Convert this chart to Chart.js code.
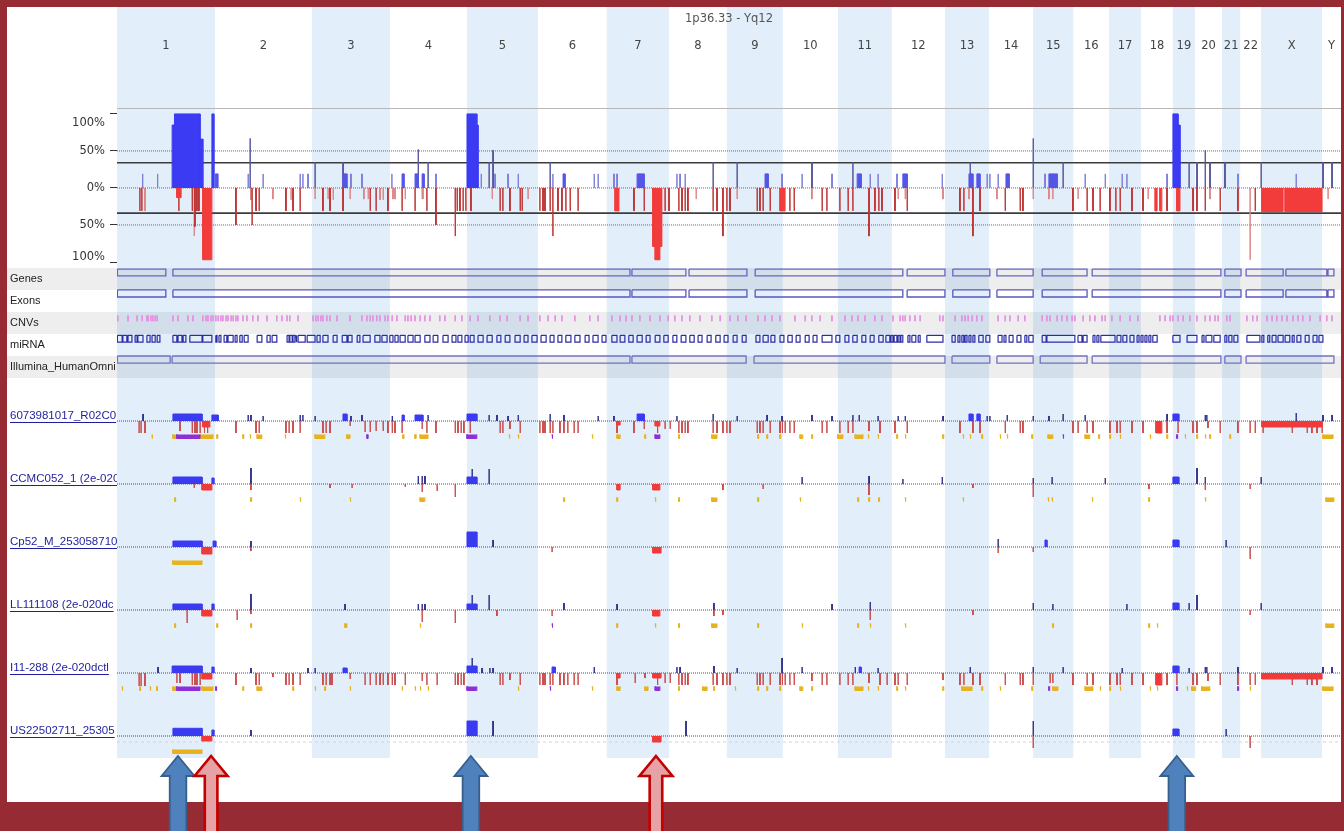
<!DOCTYPE html>
<html><head><meta charset="utf-8">
<script src="https://cdn.jsdelivr.net/npm/chart.js@4"></script>
<style>
html,body{margin:0;padding:0;width:1344px;height:831px;overflow:hidden;background:#962b33;}
#paper{position:absolute;left:7px;top:7px;width:1334px;height:795px;background:#fff;}
#wrap{position:absolute;left:0;top:0;width:1344px;height:831px;}
</style></head><body>
<div id="paper"></div>
<div id="wrap"><canvas id="c" width="1344" height="831"></canvas></div>
<script>
// ---------------- DATA ----------------
const regionTitle = '1p36.33 - Yq12';
const chromosomes = ['1','2','3','4','5','6','7','8','9','10','11','12','13','14','15','16','17','18','19','20','21','22','X','Y'];
const chromLengthsMb = [249,246,198,196,180,175,158,147,142,140,137,135,112,112,102,91,81,81,56,69,46,53,155,48];
const freqTicks = [-100,-50,0,50,100];
const freqGuides = [50,0,-50];
const thresholdPct = [34,-34];
const trackNames = ['Genes','Exons','CNVs','miRNA','Illumina_HumanOmni'];
const sampleNames = ['6073981017_R02C0','CCMC052_1 (2e-020','Cp52_M_253058710','LL111108 (2e-020dc','I11-288 (2e-020dctl','US22502711_25305'];

// frequency profile (genome Mb, %)
const freqGainBlocks = [[140,146,85],[146,211,100],[211,218,66],[241,246,100],[889,914,100],[914,917,85],[2682,2695,100],[2695,2700,85]];
const freqGainSmallBlocks = [[250,256,19],[574,584,19],[724,729,19],[757,765,19],[775,780,19],[1133,1138,19],[1321,1339,19],[1646,1654,19],[1880,1890,19],[1996,2007,19],[2164,2174,19],[2184,2192,19],[2258,2266,19],[2367,2388,19]];
const freqGainLow = [[65,19],[103,19],[333,19],[371,19],[465,19],[472,19],[485,19],[594,19],[622,19],[698,19],[810,19],[925,19],[960,19],[993,19],[1019,19],[1107,19],[1212,19],[1222,19],[1262,19],[1270,19],[1422,19],[1430,19],[1443,19],[1689,19],[1740,19],[1816,19],[1913,19],[1933,19],[1981,19],[2096,19],[2210,19],[2217,19],[2238,19],[2357,19],[2459,19],[2510,19],[2553,19],[2565,19],[2667,19],[2847,19],[2995,19]];
const freqGainHigh = [[338,67],[503,35],[574,35],[765,52],[790,35],[945,35],[955,51],[1100,35],[1514,35],[1575,35],[1765,35],[1869,35],[2167,35],[2327,67],[2403,35],[2723,35],[2743,35],[2764,51],[2776,35],[2814,35],[2906,35],[3063,35],[3086,35]];
const freqLossBlocks = [[152,163,-13],[218,241,-97],[1265,1275,-31],[1361,1384,-79],[1367,1379,-97],[1684,1697,-31],[2637,2642,-31],[2649,2654,-31],[2692,2700,-31],[2908,2962,-32],[2967,3061,-32]];
const freqLossLines = [[58,-31],[63,-31],[157,-31],[191,-31],[203,-31],[198,-52],[208,-31],[302,-50],[343,-50],[353,-31],[361,-31],[429,-31],[447,-31],[465,-31],[523,-31],[541,-31],[574,-31],[643,-31],[658,-31],[688,-31],[724,-31],[757,-31],[787,-31],[810,-50],[859,-65],[864,-31],[871,-31],[879,-31],[886,-31],[899,-31],[973,-31],[980,-31],[998,-31],[1024,-31],[1029,-31],[1074,-31],[1082,-31],[1087,-31],[1100,-31],[1107,-65],[1120,-31],[1130,-31],[1140,-31],[1151,-31],[1171,-31],[1313,-31],[1339,-31],[1392,-31],[1402,-31],[1427,-31],[1435,-31],[1443,-31],[1450,-31],[1514,-31],[1524,-31],[1539,-65],[1549,-31],[1557,-31],[1626,-31],[1633,-31],[1641,-31],[1659,-31],[1709,-31],[1720,-31],[1791,-31],[1803,-31],[1836,-31],[1857,-31],[1869,-31],[1910,-65],[1925,-31],[1935,-31],[1943,-31],[1976,-31],[2007,-31],[2141,-31],[2151,-31],[2174,-65],[2192,-31],[2256,-31],[2294,-31],[2301,-31],[2428,-31],[2464,-31],[2479,-31],[2497,-31],[2522,-31],[2537,-31],[2548,-31],[2578,-31],[2606,-31],[2667,-31],[2733,-31],[2743,-31],[2764,-31],[2802,-31],[2847,-31],[2891,-31]];
const freqLossLow = [[71,-31],[196,-65],[340,-16],[396,-15],[442,-16],[503,-15],[536,-15],[549,-16],[592,-15],[627,-15],[638,-15],[668,-16],[676,-16],[701,-15],[706,-15],[732,-15],[775,-15],[777,-15],[953,-15],[1044,-15],[1471,-15],[1575,-15],[1765,-15],[1984,-15],[2002,-15],[2098,-15],[2164,-15],[2235,-15],[2327,-15],[2367,-15],[2377,-15],[2441,-15],[2619,-15],[2776,-15],[2878,-97],[3076,-15]];

// annotation tracks (genome Mb)
const geneSegments = [[1,124],[142,1303],[1308,1445],[1453,1600],[1621,1996],[2007,2103],[2123,2217],[2235,2327],[2350,2464],[2477,2804],[2814,2855],[2868,2962],[2969,3073],[3076,3091]];
const exonSegments = [[1,124],[142,1303],[1308,1445],[1453,1600],[1621,1996],[2007,2103],[2123,2217],[2235,2327],[2350,2464],[2477,2804],[2814,2855],[2868,2962],[2969,3073],[3076,3091]];
const illuminaSegments = [[1,135],[140,1303],[1308,1598],[1618,2103],[2121,2217],[2235,2327],[2345,2464],[2477,2804],[2814,2855],[2868,3091]];
const cnvSites = [2,28,51,64,76,79,86,91,97,102,142,155,180,193,218,226,231,239,244,251,257,264,269,277,282,290,295,302,307,320,330,345,358,381,406,419,432,439,460,498,505,511,518,523,533,541,559,592,622,635,643,650,660,668,681,688,699,711,732,739,747,757,770,782,795,820,833,859,876,897,917,947,973,991,1024,1044,1074,1095,1113,1130,1163,1201,1222,1257,1278,1293,1308,1328,1354,1379,1400,1417,1435,1455,1481,1511,1532,1557,1577,1598,1628,1646,1664,1684,1722,1748,1765,1786,1816,1849,1867,1882,1900,1925,1943,1971,1989,1996,2002,2014,2027,2040,2090,2098,2129,2146,2154,2162,2172,2184,2197,2238,2256,2268,2289,2306,2350,2362,2370,2388,2400,2413,2426,2433,2454,2471,2484,2502,2510,2527,2548,2573,2593,2649,2662,2675,2682,2695,2708,2725,2743,2764,2776,2789,2797,2819,2827,2870,2885,2896,2921,2934,2946,2959,2972,2987,3000,3012,3030,3056,3073,3086];
const mirnaSegments = [[1,13],[15,25],[28,38],[46,51],[53,66],[76,84],[89,97],[102,109],[142,152],[155,165],[168,175],[185,216],[218,241],[251,254],[259,264],[272,279],[282,295],[300,305],[312,318],[323,333],[356,368],[381,389],[394,406],[432,437],[439,445],[447,452],[455,457],[460,478],[483,503],[508,516],[523,536],[549,559],[572,584],[587,597],[610,617],[625,643],[655,668],[673,686],[693,701],[706,714],[719,732],[739,752],[757,770],[782,795],[803,815],[828,841],[851,861],[866,876],[884,892],[897,907],[917,930],[940,953],[965,975],[986,998],[1011,1024],[1034,1044],[1054,1067],[1077,1090],[1100,1110],[1120,1130],[1140,1153],[1163,1176],[1189,1199],[1209,1222],[1232,1242],[1257,1270],[1278,1290],[1300,1311],[1321,1334],[1344,1354],[1367,1379],[1389,1400],[1412,1422],[1433,1445],[1455,1466],[1476,1486],[1499,1509],[1521,1532],[1542,1552],[1565,1575],[1588,1598],[1623,1633],[1641,1654],[1661,1671],[1684,1694],[1704,1715],[1725,1735],[1748,1758],[1768,1778],[1791,1816],[1826,1836],[1849,1859],[1869,1880],[1892,1902],[1913,1923],[1935,1946],[1953,1963],[1966,1971],[1974,1981],[1984,1989],[1991,1996],[2009,2014],[2019,2029],[2035,2040],[2057,2098],[2121,2129],[2136,2141],[2146,2151],[2154,2159],[2164,2169],[2174,2179],[2189,2200],[2207,2217],[2238,2248],[2253,2258],[2266,2276],[2286,2296],[2306,2311],[2316,2327],[2350,2360],[2362,2433],[2441,2451],[2454,2464],[2479,2484],[2489,2494],[2499,2535],[2540,2550],[2555,2565],[2573,2583],[2591,2596],[2601,2606],[2611,2616],[2621,2626],[2631,2642],[2682,2700],[2718,2743],[2756,2761],[2766,2781],[2786,2802],[2814,2819],[2824,2832],[2837,2847],[2870,2903],[2908,2913],[2923,2928],[2934,2944],[2949,2962],[2967,2979],[2985,2990],[2997,3007],[3018,3028],[3038,3048],[3053,3063]];

// per-sample segments: [startMb, endMb, signal], point events: [Mb, signal], allelic marks: [startMb, endMb]
const s1GainSegs = [[142,216,0.7],[241,257,0.6],[574,584,0.7],[724,729,0.6],[757,777,0.6],[889,914,0.7],[1321,1339,0.7],[2164,2174,0.7],[2184,2192,0.7],[2682,2697,0.7]];
const s1GainLines = [[66,0.7],[333,0.6],[340,0.6],[371,0.5],[465,0.6],[472,0.6],[503,0.5],[594,0.5],[622,0.6],[699,0.5],[790,0.6],[945,0.6],[965,0.6],[993,0.5],[1019,0.6],[1100,0.7],[1135,0.6],[1222,0.5],[1262,0.5],[1422,0.5],[1514,0.7],[1575,0.5],[1651,0.6],[1689,0.5],[1765,0.6],[1816,0.5],[1869,0.6],[1885,0.6],[1933,0.5],[1984,0.5],[2002,0.5],[2098,0.5],[2210,0.5],[2217,0.5],[2261,0.6],[2327,0.5],[2367,0.5],[2403,0.7],[2459,0.6],[2667,0.7],[2764,0.6],[2768,0.6],[2995,0.8],[3063,0.6],[3086,0.6]];
const s1LossSegs = [[218,236,-0.6],[1270,1278,-0.4],[1367,1379,-0.5],[2639,2654,-1.2],[2908,3061,-0.6]];
const s1LossLines = [[56,-1.2],[61,-1.2],[71,-1.2],[160,-1.0],[191,-1.2],[198,-1.2],[203,-1.2],[211,-1.2],[222,-1.2],[230,-1.2],[302,-1.2],[353,-1.2],[361,-1.2],[429,-1.2],[437,-1.2],[447,-1.2],[465,-1.2],[523,-1.2],[531,-1.2],[541,-1.2],[592,-0.5],[630,-1.1],[643,-1.1],[658,-1.0],[676,-1.0],[688,-1.2],[699,-1.2],[706,-1.2],[724,-1.2],[775,-0.8],[787,-1.2],[810,-1.2],[859,-1.2],[866,-1.2],[874,-1.2],[881,-1.2],[897,-1.2],[973,-1.2],[980,-1.2],[998,-0.8],[1024,-1.2],[1074,-1.2],[1082,-1.2],[1087,-1.2],[1100,-1.2],[1107,-1.2],[1125,-1.2],[1135,-1.2],[1145,-1.2],[1161,-1.2],[1171,-1.2],[1270,-1.2],[1313,-1.2],[1339,-0.8],[1373,-1.2],[1392,-0.8],[1405,-0.8],[1427,-1.2],[1435,-1.2],[1443,-1.2],[1450,-1.2],[1514,-1.2],[1524,-1.2],[1539,-1.2],[1549,-1.2],[1557,-1.2],[1626,-1.2],[1633,-1.2],[1641,-1.2],[1659,-1.2],[1684,-1.2],[1690,-1.2],[1697,-1.2],[1709,-1.2],[1720,-1.2],[1791,-1.2],[1803,-1.2],[1836,-1.2],[1857,-1.2],[1869,-1.2],[1910,-1.0],[1938,-1.2],[1976,-1.2],[2007,-1.2],[2141,-1.2],[2174,-1.2],[2192,-1.2],[2256,-1.2],[2294,-1.2],[2301,-1.2],[2428,-1.2],[2441,-1.2],[2464,-1.2],[2479,-1.2],[2522,-1.2],[2540,-1.2],[2548,-1.2],[2578,-1.2],[2606,-1.2],[2667,-1.2],[2695,-1.2],[2733,-1.2],[2743,-1.2],[2771,-0.7],[2802,-1.2],[2847,-1.2],[2878,-1.2],[2891,-1.2],[2911,-1.2],[2985,-1.2],[3023,-1.2],[3035,-1.2],[3048,-1.2],[3061,-1.2]];
const s1Loh = [[89,90],[142,152],[211,244],[254,256],[320,322],[338,340],[356,368],[427,429],[503,528],[584,592],[726,729],[757,760],[770,790],[996,998],[1019,1021],[1207,1209],[1270,1278],[1341,1343],[1427,1429],[1511,1524],[1628,1630],[1651,1653],[1684,1686],[1735,1742],[1765,1767],[1831,1844],[1875,1895],[1908,1910],[1933,1935],[1981,1983],[2002,2004],[2098,2100],[2149,2151],[2167,2169],[2197,2199],[2243,2245],[2261,2263],[2324,2326],[2365,2377],[2459,2471],[2494,2496],[2522,2524],[2548,2550],[2624,2626],[2667,2669],[2713,2715],[2743,2745],[2764,2766],[2776,2778],[2827,2829],[3063,3089]];
const s1Upd = [[152,211],[635,638],[889,914],[1105,1107],[1367,1379],[2403,2405],[2692,2694]];

const s2GainSegs = [[142,216,0.7],[241,246,0.6],[889,914,0.7],[2682,2697,0.7]];
const s2GainLines = [[340,1.6],[765,0.8],[775,0.8],[782,0.8],[902,1.5],[945,1.5],[1740,0.7],[1910,0.8],[1996,0.5],[2096,0.7],[2327,0.6],[2375,0.7],[2510,0.6],[2743,1.6],[2764,0.7],[2906,0.7]];
const s2LossSegs = [[216,241,-0.6],[1270,1278,-0.6],[1361,1379,-0.6]];
const s2LossLines = [[196,-0.4],[340,-0.6],[541,-0.4],[597,-0.4],[732,-0.3],[775,-0.8],[813,-0.7],[859,-1.3],[1539,-0.6],[1641,-0.5],[1910,-1.1],[2174,-0.4],[2327,-1.3],[2621,-0.5],[2764,-0.6],[2878,-0.5]];
const s2Loh = [[147,149],[340,342],[465,467],[592,594],[770,782],[1135,1137],[1270,1272],[1367,1369],[1427,1429],[1511,1524],[1628,1630],[1735,1737],[1882,1884],[1910,1912],[1935,1937],[2002,2004],[2149,2151],[2365,2367],[2375,2377],[2477,2479],[2621,2623],[2764,2766],[3071,3091]];
const s2Upd = [];

const s3GainSegs = [[142,216,0.6],[244,251,0.6],[889,914,1.5],[2357,2362,0.7],[2682,2697,0.7]];
const s3GainLines = [[340,0.6],[955,0.7],[2238,0.8],[2817,0.7]];
const s3LossSegs = [[216,241,-0.7],[1361,1382,-0.6]];
const s3LossLines = [[340,-0.4],[1105,-0.5],[2238,-0.6],[2327,-0.5],[2878,-1.2]];
const s3Loh = [[142,216]];
const s3Upd = [];

const s4GainSegs = [[142,216,0.6],[241,246,0.6],[889,914,0.6],[2682,2697,0.7]];
const s4GainLines = [[340,1.6],[579,0.6],[765,0.6],[775,0.6],[782,0.6],[902,1.5],[945,1.5],[1135,0.7],[1270,0.6],[1516,0.7],[1816,0.6],[1913,0.8],[2327,0.7],[2377,0.6],[2565,0.6],[2723,0.7],[2743,1.5],[2906,0.7]];
const s4LossSegs = [[216,241,-0.6],[1361,1379,-0.6]];
const s4LossLines = [[178,-1.3],[305,-1.0],[340,-0.4],[775,-1.2],[859,-1.3],[965,-0.6],[1105,-0.6],[1516,-0.6],[1539,-0.5],[1913,-1.0],[2174,-0.5],[2878,-0.5]];
const s4Loh = [[147,149],[254,256],[340,342],[579,584],[770,772],[1270,1272],[1367,1369],[1427,1429],[1511,1524],[1628,1630],[1740,1742],[1882,1884],[1913,1915],[2002,2004],[2377,2379],[2621,2623],[2642,2644],[3071,3091]];
const s4Upd = [[1105,1107]];

const s5GainSegs = [[140,216,0.7],[241,246,0.6],[574,584,0.5],[889,914,0.7],[1105,1113,0.6],[1885,1890,0.6],[2682,2697,0.7]];
const s5GainLines = [[104,0.6],[340,0.5],[485,0.5],[503,0.5],[902,1.5],[927,0.5],[947,0.5],[955,0.5],[1212,0.6],[1422,0.6],[1430,0.6],[1516,0.7],[1575,0.5],[1689,1.5],[1740,0.6],[1875,0.6],[1933,0.5],[2167,0.6],[2327,0.6],[2403,0.6],[2553,0.5],[2723,0.5],[2764,0.6],[2768,0.6],[2847,0.6],[3063,0.6],[3086,0.6]];
const s5LossSegs = [[216,241,-0.6],[1270,1278,-0.5],[1361,1382,-0.5],[2639,2654,-1.2],[2908,3061,-0.6]];
const s5LossLines = [[56,-1.3],[61,-1.3],[71,-1.3],[152,-1.0],[160,-1.0],[191,-1.2],[198,-1.2],[203,-1.2],[211,-1.2],[302,-1.2],[353,-1.2],[361,-1.2],[396,-0.4],[429,-1.2],[437,-1.2],[447,-1.2],[465,-1.2],[523,-1.2],[531,-1.2],[541,-1.2],[546,-1.2],[592,-0.6],[630,-1.2],[643,-1.2],[658,-1.2],[668,-1.2],[676,-1.2],[688,-1.2],[699,-1.2],[706,-1.2],[732,-1.2],[775,-0.8],[787,-1.2],[813,-1.2],[859,-1.2],[866,-1.2],[874,-1.2],[881,-1.2],[973,-1.2],[980,-1.2],[998,-0.7],[1024,-1.2],[1074,-1.2],[1082,-1.2],[1087,-1.2],[1100,-1.2],[1107,-1.2],[1125,-1.2],[1135,-1.2],[1145,-1.2],[1161,-1.2],[1171,-1.2],[1270,-1.2],[1316,-1.0],[1341,-0.5],[1373,-1.2],[1392,-1.0],[1405,-1.0],[1427,-1.2],[1435,-1.2],[1443,-1.2],[1450,-1.2],[1514,-1.2],[1524,-1.2],[1539,-1.2],[1549,-1.2],[1557,-1.2],[1626,-1.2],[1633,-1.2],[1641,-1.2],[1659,-1.2],[1684,-1.2],[1690,-1.2],[1697,-1.2],[1709,-1.2],[1720,-1.2],[1765,-0.8],[1791,-1.2],[1803,-1.2],[1836,-1.2],[1857,-1.2],[1869,-1.2],[1910,-1.0],[1938,-1.2],[1956,-1.2],[1976,-1.2],[1984,-1.2],[2007,-1.2],[2098,-0.7],[2141,-1.2],[2151,-1.2],[2174,-1.2],[2192,-1.2],[2256,-1.2],[2294,-1.2],[2301,-1.2],[2327,-1.2],[2370,-1.0],[2377,-1.0],[2428,-1.2],[2464,-1.2],[2479,-1.2],[2522,-1.2],[2540,-1.2],[2548,-1.2],[2578,-1.2],[2606,-1.2],[2667,-1.2],[2692,-1.2],[2733,-1.2],[2743,-1.2],[2771,-0.8],[2802,-1.2],[2847,-1.2],[2878,-1.2],[2891,-1.2],[2985,-1.2],[3023,-1.2],[3035,-1.2],[3048,-1.2]];
const s5Loh = [[13,15],[58,60],[84,86],[101,103],[142,152],[216,244],[320,322],[356,368],[447,449],[503,505],[528,530],[592,594],[724,726],[757,759],[770,772],[790,792],[1019,1021],[1207,1209],[1270,1278],[1341,1349],[1427,1429],[1488,1499],[1516,1518],[1570,1572],[1628,1630],[1651,1653],[1684,1686],[1735,1742],[1765,1767],[1875,1895],[1908,1910],[1933,1935],[1981,1983],[2002,2004],[2098,2100],[2146,2172],[2197,2199],[2243,2245],[2324,2326],[2377,2390],[2459,2479],[2497,2499],[2522,2524],[2548,2550],[2624,2626],[2642,2644],[2718,2720],[2730,2740],[2755,2776],[2878,2880],[3063,3089]];
const s5Upd = [[152,211],[251,253],[889,914],[1100,1102],[1367,1379],[2367,2369],[2692,2694],[2847,2849]];

const s6GainSegs = [[142,216,0.77],[241,246,0.6],[889,914,1.5],[2682,2697,0.7]];
const s6GainLines = [[340,0.6],[955,1.5],[1445,1.5],[2327,1.5],[2817,0.7]];
const s6LossSegs = [[216,241,-0.5],[1361,1382,-0.6]];
const s6LossLines = [[2327,-1.2],[2878,-1.2]];
const s6Loh = [[142,216]];
const s6Upd = [];

// highlighted regions (genome Mb)
const gainArrows = [155, 899, 2692];
const lossArrows = [239, 1369];

// ---------------- BUILD ----------------
const TOTAL = chromLengthsMb.reduce((a,b)=>a+b,0);
const chromStarts = []; chromLengthsMb.reduce((acc,l,i)=>{chromStarts[i]=acc; return acc+l;},0);
const chromCenters = chromStarts.map((s,i)=>s+chromLengthsMb[i]/2);
const FONT_A = "'DejaVu Sans', sans-serif";
const FONT_B = "'Liberation Sans', Arial, sans-serif";
const SHADE = '#e2eefa';
const LABEL_W = 107;

const samples = [
  {gs:s1GainSegs, gl:s1GainLines, ls:s1LossSegs, ll:s1LossLines, loh:s1Loh, upd:s1Upd},
  {gs:s2GainSegs, gl:s2GainLines, ls:s2LossSegs, ll:s2LossLines, loh:s2Loh, upd:s2Upd},
  {gs:s3GainSegs, gl:s3GainLines, ls:s3LossSegs, ll:s3LossLines, loh:s3Loh, upd:s3Upd},
  {gs:s4GainSegs, gl:s4GainLines, ls:s4LossSegs, ll:s4LossLines, loh:s4Loh, upd:s4Upd},
  {gs:s5GainSegs, gl:s5GainLines, ls:s5LossSegs, ll:s5LossLines, loh:s5Loh, upd:s5Upd},
  {gs:s6GainSegs, gl:s6GainLines, ls:s6LossSegs, ll:s6LossLines, loh:s6Loh, upd:s6Upd}
];

function barSet(segs, base, color, axis, minW, width) {
  const sorted = segs.map(s => [s[0], Math.max(s[1], s[0] + minW), s[2]]).sort((a,b)=>a[0]-b[0]);
  const pts = [{x:0,y:base}];
  sorted.forEach(([s,e,v]) => pts.push({x:s,y:base},{x:s,y:v},{x:e,y:v},{x:e,y:base}));
  pts.push({x:TOTAL,y:base});
  return {
    data: pts, yAxisID: axis, borderColor: color, backgroundColor: color,
    borderWidth: width || 1, fill: {value: base}, pointRadius: 0, borderJoinStyle: 'miter',
    segment: { borderColor: c => (c.p0.parsed.y === base && c.p1.parsed.y === base) ? 'rgba(0,0,0,0)' : undefined }
  };
}
function lineSet(v, color, axis, width, dash) {
  return {data:[{x:0,y:v},{x:TOTAL,y:v}], yAxisID:axis, borderColor:color, borderWidth:width, borderDash:dash||[], fill:false, pointRadius:0};
}
function boxSet(segs, row, top, bot, color, width) {
  const pts = [];
  segs.forEach(([s,e]) => pts.push({x:s,y:row+top},{x:e,y:row+top},{x:e,y:row+bot},{x:s,y:row+bot},{x:s,y:row+top},{x:s,y:null}));
  return {data:pts, yAxisID:'yT', borderColor:color, borderWidth:width, fill:false, spanGaps:false, pointRadius:0};
}
function tickSet(sites, row, top, bot, color) {
  const pts = [];
  sites.forEach(p => pts.push({x:p,y:row+top},{x:p,y:row+bot},{x:p,y:null}));
  return {data:pts, yAxisID:'yT', borderColor:color, borderWidth:1, fill:false, spanGaps:false, pointRadius:0};
}
const asSeg = arr => arr.map(([p,v]) => [p,p,v]);

const datasets = [];
// frequency profile bars
datasets.push(barSet(freqGainBlocks, 0, '#3b3bf3', 'y', 0, 1));
datasets.push(barSet(freqLossBlocks, 0, '#f23c3c', 'y', 0, 1));
datasets.push(barSet(freqGainSmallBlocks, 0, '#5555e6', 'y', 0, 1));
datasets.push(barSet(asSeg(freqGainHigh), 0, '#55559a', 'y', 0.4, 1));
datasets.push(barSet(asSeg(freqGainLow), 0, '#7d7dd8', 'y', 0.4, 1));
datasets.push(barSet(asSeg(freqLossLines), 0, '#bd3232', 'y', 0.4, 1));
datasets.push(barSet(asSeg(freqLossLow), 0, '#dc8585', 'y', 0.4, 1));
// frequency guides
thresholdPct.forEach(v => datasets.push(lineSet(v, '#3c3c3c', 'y', 1.6)));
freqGuides.forEach(v => datasets.push(lineSet(v, '#6a6a6a', 'y', 1, [1,1])));
datasets.push(lineSet(107.4, '#b4b4b4', 'y', 1));
// annotation tracks
datasets.push(boxSet(geneSegments, 0, 0.05, 0.36, '#6565c6', 1.3));
datasets.push(boxSet(exonSegments, 1, 0.0, 0.32, '#5858bd', 1.3));
datasets.push(tickSet(cnvSites, 2, 0.16, 0.42, '#e68ee6'));
datasets.push(boxSet(mirnaSegments, 3, 0.06, 0.37, '#2c2ca6', 1.2));
datasets.push(boxSet(illuminaSegments, 4, 0.0, 0.32, '#7272c2', 1.3));
// samples
samples.forEach((s,i) => {
  const ax = 's' + i;
  datasets.push(barSet(s.gs, 0, '#3a3af0', ax, 0, 1));
  datasets.push(barSet(s.ls, 0, '#f03a3a', ax, 0, 1));
  datasets.push(barSet(asSeg(s.gl), 0, '#2f2f88', ax, 0.4, 1));
  datasets.push(barSet(asSeg(s.ll), 0, '#c94a4a', ax, 0.4, 1));
  datasets.push(barSet(s.upd.map(([a,b])=>[a,b,-1.75]), -1.35, '#8c2fd8', ax, 0.5, 1));
  datasets.push(barSet(s.loh.map(([a,b])=>[a,b,-1.75]), -1.35, '#e8b21e', ax, 0.5, 1));
  datasets.push(lineSet(0, '#505050', ax, 1, [1,1]));
});
datasets.push(lineSet(-0.6, '#d4d4d4', 's5', 1, [3,3]));

// ---------------- SCALES ----------------
const scales = {
  x: {
    type:'linear', position:'top', min:0, max:TOTAL,
    afterBuildTicks: s => { s.ticks = chromCenters.map(v=>({value:v})); },
    afterFit: s => { s.height = 78.2; },
    ticks: {autoSkip:false, maxRotation:0, minRotation:0, padding:0, color:'#444', font:{family:FONT_A, size:11.5},
            callback: (v,i) => chromosomes[i]},
    grid: {display:true, drawOnChartArea:false, drawTicks:true, tickLength:55, tickColor:'rgba(0,0,0,0)'},
    border: {display:false}
  },
  y: {
    type:'linear', position:'left', stack:'rows', stackWeight:154, weight:10, min:-100, max:108,
    afterBuildTicks: s => { s.ticks = freqTicks.map(v=>({value:v})); },
    afterFit: s => { s.width = LABEL_W; },
    ticks: {
      autoSkip:false, padding:5, color:'#333', crossAlign:'near',
      font: c => ({family:FONT_A, size:11.5, lineHeight: c.index === 4 ? '18px' : (c.index === 0 ? '10px' : 1.2)}),
      callback: (v,i) => { const t = Math.abs(v) + '%'; return v === 100 ? ['', t] : (v === -100 ? [t, ''] : t); }
    },
    grid: {display:true, drawOnChartArea:false, drawTicks:true, tickLength:7, tickColor:'#333', tickWidth:1},
    border: {display:false}
  },
  yT: {
    type:'linear', position:'left', stack:'rows', stackWeight:118, weight:9, reverse:true, min:-0.27, max:5.09,
    afterBuildTicks: s => { s.ticks = trackNames.map((n,i)=>({value:i+0.5})); },
    afterFit: s => { s.width = LABEL_W; },
    ticks: {autoSkip:false, padding:0, crossAlign:'far', color:'#222', font:{family:FONT_B, size:11}, callback:(v,i)=>trackNames[i]},
    grid: {display:false, drawTicks:false}, border:{display:false}
  }
};
sampleNames.forEach((n,i) => {
  scales['s'+i] = {
    type:'linear', position:'left', stack:'rows', stackWeight:63, weight:8-i, min:-2.2, max:4.1,
    afterBuildTicks: s => { s.ticks = [{value:0.55}]; },
    afterFit: s => { s.width = LABEL_W; },
    ticks: {autoSkip:false, padding:0, crossAlign:'far', color:'#1f1f9c', font:{family:FONT_B, size:11.5}, callback:()=>sampleNames[i]},
    grid: {display:false, drawTicks:false}, border:{display:false}
  };
});

// ---------------- PLUGIN ----------------
function shadeColumns(chart, y0, y1) {
  const {ctx, scales:{x}} = chart;
  ctx.fillStyle = SHADE;
  chromosomes.forEach((c,i) => {
    if (i % 2 === 0) {
      const a = x.getPixelForValue(chromStarts[i]), b = x.getPixelForValue(chromStarts[i] + chromLengthsMb[i]);
      ctx.fillRect(a, y0, b - a, y1 - y0);
    }
  });
}
function bandRows(chart, x0, x1) {
  const {ctx, scales:{yT}} = chart;
  ctx.fillStyle = 'rgba(0,0,0,0.065)';
  trackNames.forEach((n,r) => {
    if (r % 2 === 0) {
      const a = yT.getPixelForValue(r), b = yT.getPixelForValue(r + 1);
      ctx.fillRect(x0, a, x1 - x0, b - a);
    }
  });
}
function arrow(ctx, x, tip, bottom, half, kind) {
  const headH = 20, headHalf = 16.5;
  ctx.beginPath();
  ctx.moveTo(x, tip);
  ctx.lineTo(x + headHalf, tip + headH);
  ctx.lineTo(x + half, tip + headH);
  ctx.lineTo(x + half, bottom);
  ctx.lineTo(x - half, bottom);
  ctx.lineTo(x - half, tip + headH);
  ctx.lineTo(x - headHalf, tip + headH);
  ctx.closePath();
  if (kind === 'gain') { ctx.fillStyle = '#4f81bd'; ctx.strokeStyle = '#385e8c'; ctx.lineWidth = 1.8; }
  else { ctx.fillStyle = '#e6a2a4'; ctx.strokeStyle = '#c40000'; ctx.lineWidth = 2.6; }
  ctx.fill(); ctx.stroke();
}
const painter = {
  id: 'painter',
  beforeDraw(chart) {
    const {ctx, chartArea} = chart;
    ctx.save();
    shadeColumns(chart, 7, chartArea.top);
    bandRows(chart, 7, chartArea.left);
    ctx.restore();
  },
  beforeDatasetsDraw(chart) {
    const {ctx, chartArea, scales} = chart;
    ctx.save();
    shadeColumns(chart, chartArea.top, scales.s5.bottom);
    bandRows(chart, chartArea.left, chartArea.right);
    ctx.restore();
  },
  afterDraw(chart) {
    const {ctx, chartArea, scales} = chart;
    ctx.save();
    ctx.font = "11.5px " + FONT_B;
    ctx.strokeStyle = '#1f1f9c'; ctx.lineWidth = 1;
    sampleNames.forEach((n,i) => {
      const sc = scales['s'+i];
      const y = Math.round(sc.getPixelForValue(0.55) + 6) + 0.5;
      const w = ctx.measureText(n).width;
      ctx.beginPath(); ctx.moveTo(sc.left, y); ctx.lineTo(Math.min(sc.left + w, chartArea.left), y); ctx.stroke();
    });
    const tip = scales.s5.bottom - 2, bottom = chart.height + 4;
    gainArrows.forEach(p => arrow(ctx, scales.x.getPixelForValue(p), tip, bottom, 8.3, 'gain'));
    lossArrows.forEach(p => arrow(ctx, scales.x.getPixelForValue(p), tip, bottom, 6.3, 'loss'));
    ctx.restore();
  }
};

new Chart(document.getElementById('c'), {
  type: 'line',
  data: { datasets },
  options: {
    responsive:false, animation:false, events:[],
    layout: {padding:{left:10, right:3, top:7, bottom:73}, autoPadding:false},
    elements: {point:{radius:0}, line:{tension:0}},
    plugins: {
      legend:{display:false}, tooltip:{enabled:false},
      title:{display:true, text:regionTitle, fullSize:false, color:'#555', font:{family:FONT_A, size:11.5, weight:'normal'}, padding:{top:5, bottom:4}}
    },
    scales
  },
  plugins: [painter]
});
</script>
</body></html>
